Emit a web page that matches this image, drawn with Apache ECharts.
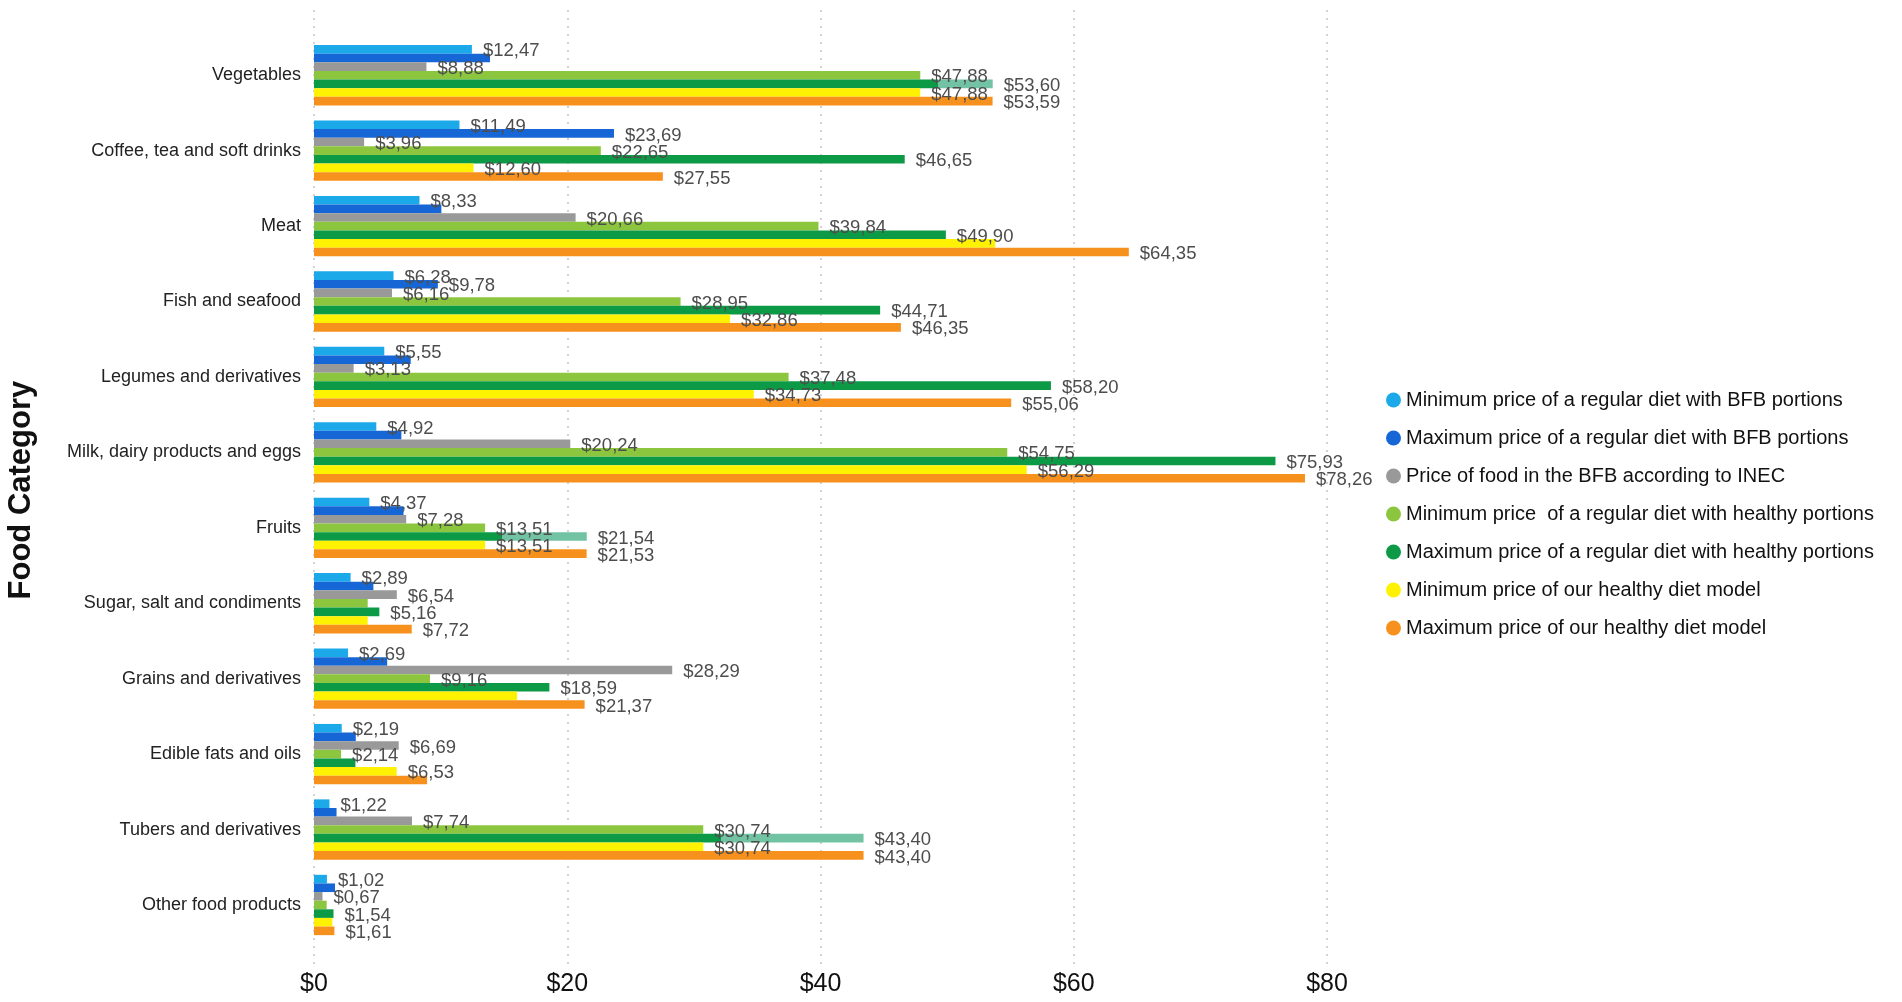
<!DOCTYPE html>
<html><head><meta charset="utf-8">
<script src="https://cdn.jsdelivr.net/npm/echarts@6/dist/echarts.min.js"></script>
<style>html,body{margin:0;padding:0;background:#fff}#c{width:1902px;height:1002px}</style>
</head><body><div id="c"></div>
<script>
const categories = ['Vegetables', 'Coffee, tea and soft drinks', 'Meat', 'Fish and seafood', 'Legumes and derivatives',
  'Milk, dairy products and eggs', 'Fruits', 'Sugar, salt and condiments', 'Grains and derivatives',
  'Edible fats and oils', 'Tubers and derivatives', 'Other food products'];
const seriesNames = ['Minimum price of a regular diet with BFB portions',
  'Maximum price of a regular diet with BFB portions',
  'Price of food in the BFB according to INEC',
  'Minimum price  of a regular diet with healthy portions',
  'Maximum price of a regular diet with healthy portions',
  'Minimum price of our healthy diet model',
  'Maximum price of our healthy diet model'];
const minRegularBFB     = [12.47, 11.49, 8.33, 6.28, 5.55, 4.92, 4.37, 2.89, 2.69, 2.19, 1.22, 1.02];
const maxRegularBFB     = [13.90, 23.69, 10.06, 9.78, 7.64, 6.90, 7.07, 4.69, 5.78, 3.30, 1.78, 1.66];
const priceINEC         = [8.88, 3.96, 20.66, 6.16, 3.13, 20.24, 7.28, 6.54, 28.29, 6.69, 7.74, 0.67];
const minRegularHealthy = [47.88, 22.65, 39.84, 28.95, 37.48, 54.75, 13.51, 4.24, 9.16, 2.14, 30.74, 1.00];
const maxRegularHealthy = [53.60, 46.65, 49.90, 44.71, 58.20, 75.93, 21.54, 5.16, 18.59, 3.27, 43.40, 1.54];
const minModel          = [47.88, 12.60, 53.80, 32.86, 34.73, 56.29, 13.51, 4.24, 16.04, 6.53, 30.74, 1.45];
const maxModel          = [53.59, 27.55, 64.35, 46.35, 55.06, 78.26, 21.53, 7.72, 21.37, 8.93, 43.40, 1.61];
const xTicks = [0, 20, 40, 60, 80];

// labels not shown in the reference (by series index -> category indices)
const hiddenLabels = {1: [0, 2, 4, 5, 6, 7, 8, 9, 10, 11], 3: [7, 11], 4: [9], 5: [2, 7, 8, 11], 6: [9]};
// style: highlighted (teal) tail on some bars of series 4
const tealSplit = {0: 0.92, 6: 0.69, 10: 0.74};

const colors = ['#1ba9ea', '#1766d5', '#999999', '#8cc63f', '#0c9a47', '#fff200', '#f7911e'];
const teal = '#72c2a4';
const allData = [minRegularBFB, maxRegularBFB, priceINEC, minRegularHealthy, maxRegularHealthy, minModel, maxModel];
const fmt = v => '$' + v.toFixed(2).replace('.', ',');

const series = allData.map((arr, si) => ({
  name: seriesNames[si],
  type: 'bar',
  xAxisIndex: 0, yAxisIndex: 0,
  barGap: '0%',
  barCategoryGap: '20%',
  itemStyle: {color: colors[si]},
  label: {
    show: true, position: 'right', distance: 11, offset: [0, 2],
    formatter: p => fmt(p.value),
    fontFamily: "'Liberation Sans', Arial, sans-serif",
    fontSize: 18.5, color: '#4d4d4d'
  },
  data: arr.map((v, ci) => {
    const item = {value: v};
    if ((hiddenLabels[si] || []).includes(ci)) item.label = {show: false};
    if (si === 4 && tealSplit[ci] !== undefined) {
      const f = tealSplit[ci];
      item.itemStyle = {color: new echarts.graphic.LinearGradient(0, 0, 1, 0, [
        {offset: 0, color: colors[4]}, {offset: f, color: colors[4]},
        {offset: f, color: teal}, {offset: 1, color: teal}])};
    }
    return item;
  })
}));

const chart = echarts.init(document.getElementById('c'), null, {renderer: 'canvas'});
chart.setOption({
  animation: false,
  backgroundColor: '#fff',
  grid: [
    {left: 314, right: 575, top: 37.5, bottom: 59.3, outerBoundsMode: 'none', containLabel: false},
    {left: 314, right: 575, top: 10, bottom: 38, outerBoundsMode: 'none', containLabel: false}
  ],
  legend: {
    data: seriesNames, orient: 'vertical', left: 1381, top: 385,
    icon: 'circle', itemWidth: 15, itemHeight: 15, itemGap: 18,
    textStyle: {fontFamily: "'Liberation Sans', Arial, sans-serif", fontSize: 20, color: '#111', padding: [0, 0, 0, 0]}
  },
  xAxis: [
    {gridIndex: 0, type: 'value', min: xTicks[0], max: xTicks[xTicks.length - 1], interval: 20,
      axisLine: {show: false}, axisTick: {show: false}, axisLabel: {show: false}, splitLine: {show: false}},
    {gridIndex: 1, type: 'value', min: xTicks[0], max: xTicks[xTicks.length - 1], interval: 20,
      axisLine: {show: false}, axisTick: {show: false},
      axisLabel: {formatter: v => '$' + v, fontFamily: "'Liberation Sans', Arial, sans-serif", fontSize: 25, color: '#111', margin: 8},
      splitLine: {show: true, lineStyle: {type: [2, 6], color: '#c4c4c4', width: 1.5}}}
  ],
  yAxis: [
    {gridIndex: 0, type: 'category', data: categories, inverse: true,
      axisLine: {show: false}, axisTick: {show: false},
      axisLabel: {fontFamily: "'Liberation Sans', Arial, sans-serif", fontSize: 18, color: '#222', margin: 13},
      name: 'Food Category', nameLocation: 'middle', nameGap: 277, nameRotate: 90,
      nameTextStyle: {fontFamily: "'Liberation Sans', Arial, sans-serif", fontSize: 31, fontWeight: 'bold', color: '#111'}},
    {gridIndex: 1, type: 'value', show: false}
  ],
  series: series
});
</script>
</body></html>
